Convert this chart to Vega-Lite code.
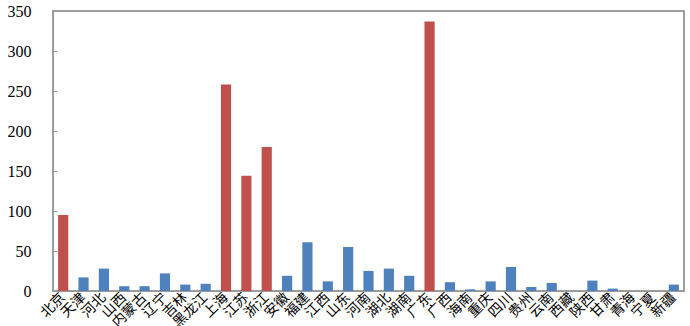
{
  "$schema": "https://vega.github.io/schema/vega-lite/v6.json",
  "autosize": "none",
  "width": 631,
  "height": 280,
  "padding": {"left": 53, "top": 11, "right": 6, "bottom": 35},
  "background": "white",
  "config": {
    "view": {"stroke": "#808080", "strokeWidth": 1.5},
    "axis": {"grid": false, "domain": true, "domainColor": "#999999", "labelColor": "#000000"}
  },
  "data": {
    "values": [
      {"province": "北京", "value": 95, "group": "a"},
      {"province": "天津", "value": 17, "group": "b"},
      {"province": "河北", "value": 28, "group": "b"},
      {"province": "山西", "value": 6, "group": "b"},
      {"province": "内蒙古", "value": 6, "group": "b"},
      {"province": "辽宁", "value": 22, "group": "b"},
      {"province": "吉林", "value": 8, "group": "b"},
      {"province": "黑龙江", "value": 9, "group": "b"},
      {"province": "上海", "value": 258, "group": "a"},
      {"province": "江苏", "value": 144, "group": "a"},
      {"province": "浙江", "value": 180, "group": "a"},
      {"province": "安徽", "value": 19, "group": "b"},
      {"province": "福建", "value": 61, "group": "b"},
      {"province": "江西", "value": 12, "group": "b"},
      {"province": "山东", "value": 55, "group": "b"},
      {"province": "河南", "value": 25, "group": "b"},
      {"province": "湖北", "value": 28, "group": "b"},
      {"province": "湖南", "value": 19, "group": "b"},
      {"province": "广东", "value": 337, "group": "a"},
      {"province": "广西", "value": 11, "group": "b"},
      {"province": "海南", "value": 2, "group": "b"},
      {"province": "重庆", "value": 12, "group": "b"},
      {"province": "四川", "value": 30, "group": "b"},
      {"province": "贵州", "value": 5, "group": "b"},
      {"province": "云南", "value": 10, "group": "b"},
      {"province": "西藏", "value": 0, "group": "b"},
      {"province": "陕西", "value": 13, "group": "b"},
      {"province": "甘肃", "value": 3, "group": "b"},
      {"province": "青海", "value": 0, "group": "b"},
      {"province": "宁夏", "value": 0, "group": "b"},
      {"province": "新疆", "value": 8, "group": "b"}
    ]
  },
  "mark": {"type": "bar"},
  "encoding": {
    "x": {
      "field": "province",
      "type": "nominal",
      "sort": null,
      "scale": {"paddingInner": 0.5, "paddingOuter": 0.25},
      "axis": {
        "title": null,
        "ticks": false,
        "labelAngle": -45,
        "labelAlign": "right",
        "labelBaseline": "middle",
        "labelFont": "Noto Sans CJK SC",
        "labelFontSize": 14,
        "labelPadding": 4,
        "labelOverlap": false
      }
    },
    "y": {
      "field": "value",
      "type": "quantitative",
      "scale": {"domain": [0, 350], "nice": false},
      "axis": {
        "title": null,
        "values": [0, 50, 100, 150, 200, 250, 300, 350],
        "tickSize": -4,
        "tickColor": "#999999",
        "labelFont": "Liberation Serif",
        "labelFontSize": 16,
        "labelPadding": 26
      }
    },
    "color": {
      "field": "group",
      "type": "nominal",
      "scale": {"domain": ["a", "b"], "range": ["#c0504d", "#4f81bd"]},
      "legend": null
    }
  }
}
